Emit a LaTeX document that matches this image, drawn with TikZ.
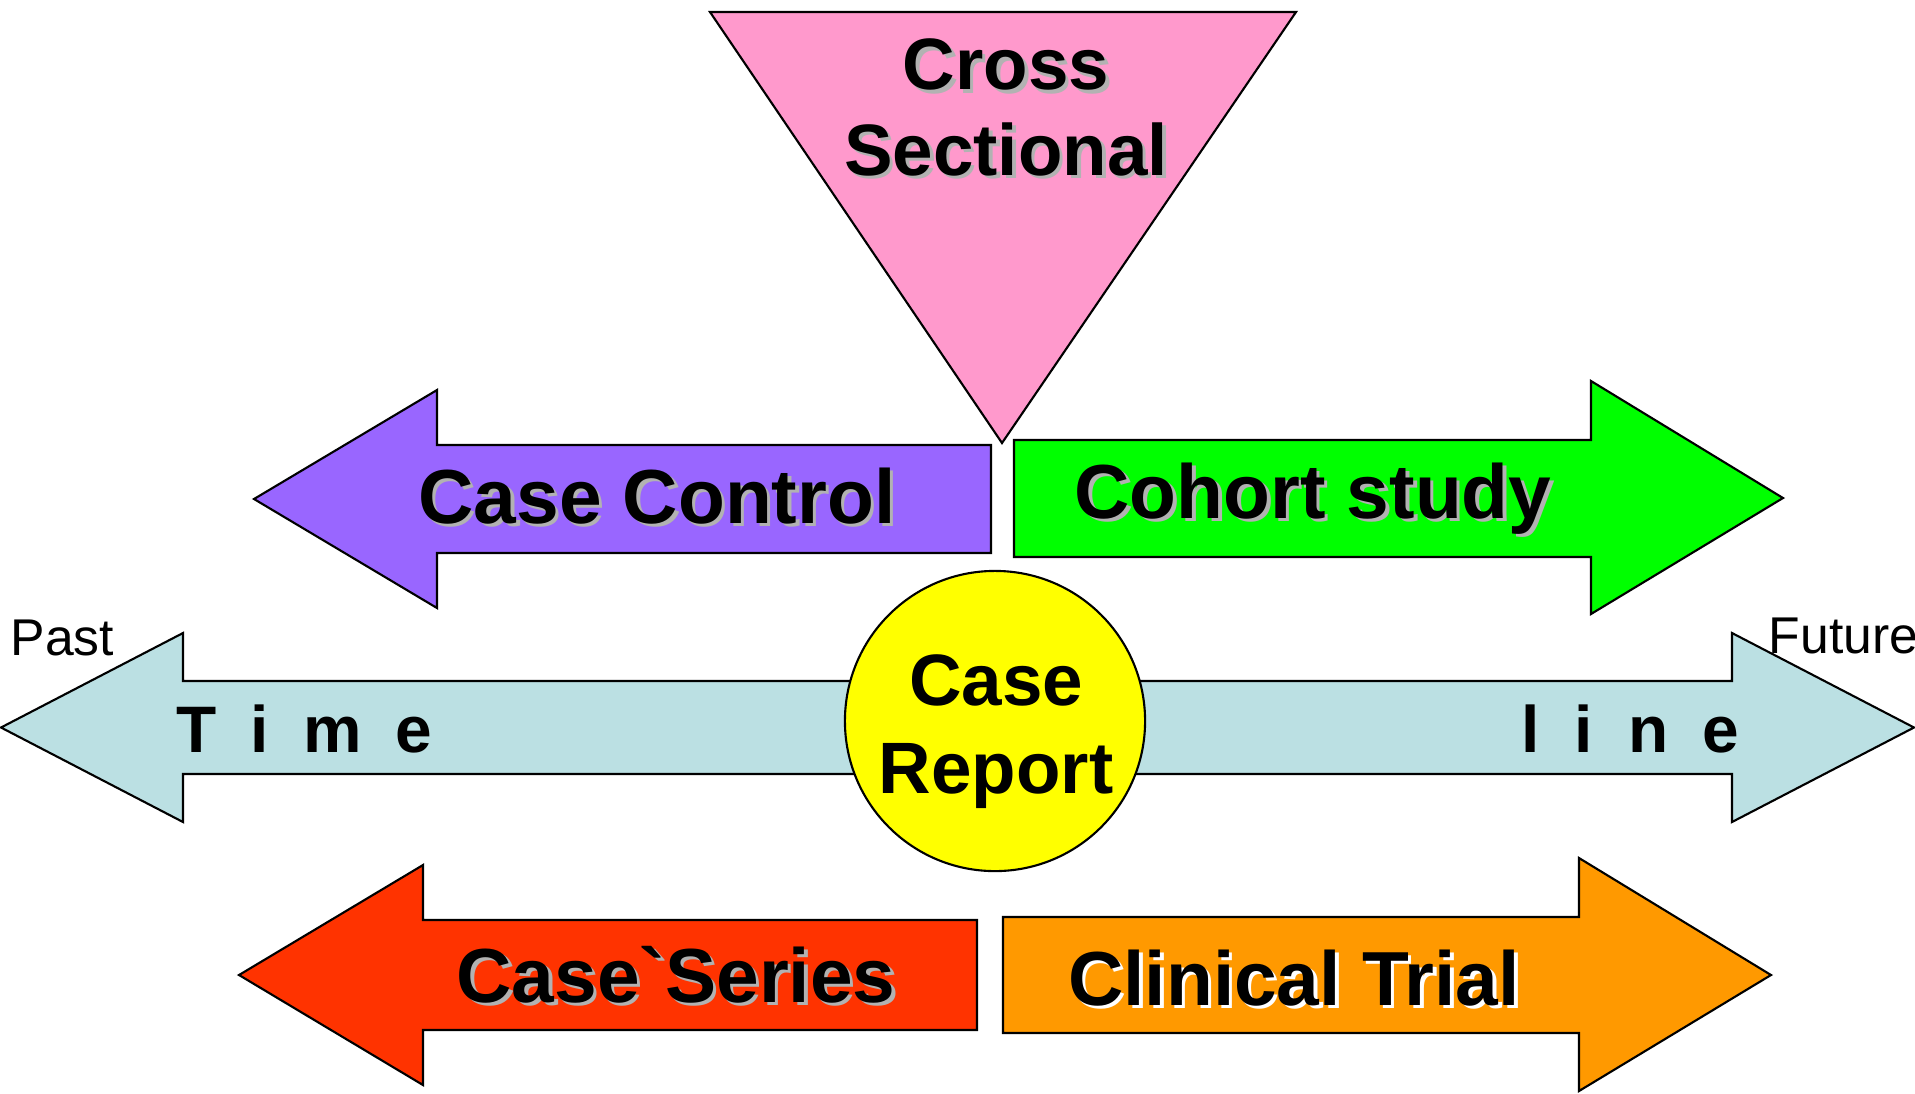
\documentclass[tikz,border=0pt]{standalone}
\usepackage{fontspec}
\setmainfont{Liberation Sans}[Ligatures=TeXOff]
\usepackage{tikz}
\definecolor{pinktri}{RGB}{255,153,204}
\definecolor{ccpurple}{RGB}{153,102,255}
\definecolor{cohortgreen}{RGB}{0,255,0}
\definecolor{timeblue}{RGB}{187,224,227}
\definecolor{reportyellow}{RGB}{255,255,0}
\definecolor{seriesred}{RGB}{255,51,0}
\definecolor{trialorange}{RGB}{255,153,0}
\definecolor{shade}{RGB}{178,178,178}
\newcommand{\shadowed}[2]{\rlap{\kern0.035cm\raisebox{-0.035cm}{\color{#1}#2}}#2}

\begin{document}
\begin{tikzpicture}[x=0.01cm, y=-0.01cm,
  blockshape/.style={draw=black, line width=0.6pt, line join=miter},
  studytext/.style={font=\fontsize{21.8}{26}\selectfont\bfseries, inner sep=0pt, anchor=base},
  twoline/.style={font=\fontsize{20.7}{25}\selectfont\bfseries, align=center, inner sep=0pt, anchor=base},
  timetext/.style={font=\fontsize{18.7}{22}\selectfont\bfseries, inner sep=0pt, anchor=base west},
  endtext/.style={font=\fontsize{14.7}{17}\selectfont, inner sep=0pt, anchor=base west},
]
\useasboundingbox (0,0) rectangle (1915,1093);

% time line (double arrow)
\draw[blockshape, fill=timeblue] (1,727.5) -- (183,633) -- (183,681) -- (1732,681) -- (1732,633)
  -- (1914,727.5) -- (1732,822) -- (1732,774) -- (183,774) -- (183,822) -- cycle;

% cross sectional
\draw[blockshape, fill=pinktri] (710,12) -- (1296,12) -- (1002,443) -- cycle;

% upper arrows
\draw[blockshape, fill=ccpurple] (254,499) -- (437,390) -- (437,445) -- (991,445) -- (991,553)
  -- (437,553) -- (437,608) -- cycle;
\draw[blockshape, fill=cohortgreen] (1014,440) -- (1591,440) -- (1591,381) -- (1783,498)
  -- (1591,614) -- (1591,557) -- (1014,557) -- cycle;

% lower arrows
\draw[blockshape, fill=seriesred] (239,975) -- (423,865) -- (423,920) -- (977,920) -- (977,1030)
  -- (423,1030) -- (423,1085) -- cycle;
\draw[blockshape, fill=trialorange] (1003,917) -- (1579,917) -- (1579,858) -- (1771,975)
  -- (1579,1091) -- (1579,1033) -- (1003,1033) -- cycle;

\node[circle, blockshape, fill=reportyellow, minimum size=3cm, inner sep=0pt] (report) at (995,721) {};
\node[twoline] (reporttext) at (996,793) {Case\\Report};

\node[twoline, font=\fontsize{20.7}{24.2}\selectfont\bfseries] (cross) at (1006,175)
  {\shadowed{shade}{Cross}\\\shadowed{shade}{Sectional}};

\node[studytext] (control) at (657,523) {\shadowed{shade}{Case Control}};
\node[studytext] (cohort) at (1313,518) {\shadowed{shade}{Cohort study}};
\node[studytext] (series) at (676,1002) {\shadowed{shade}{Case\symbol{96}Series}};
\node[studytext] (trial) at (1294,1005) {\shadowed{white}{Clinical Trial}};

\node[timetext] (time) at (176,752) {T\hspace{0.34cm}i\hspace{0.34cm}m\hspace{0.34cm}e};
\node[timetext] (line) at (1521,752) {l\hspace{0.35cm}i\hspace{0.35cm}n\hspace{0.34cm}e};

\node[endtext] (past) at (10,655) {Past};
\node[endtext] (future) at (1768,653) {Future};
\end{tikzpicture}
\end{document}
